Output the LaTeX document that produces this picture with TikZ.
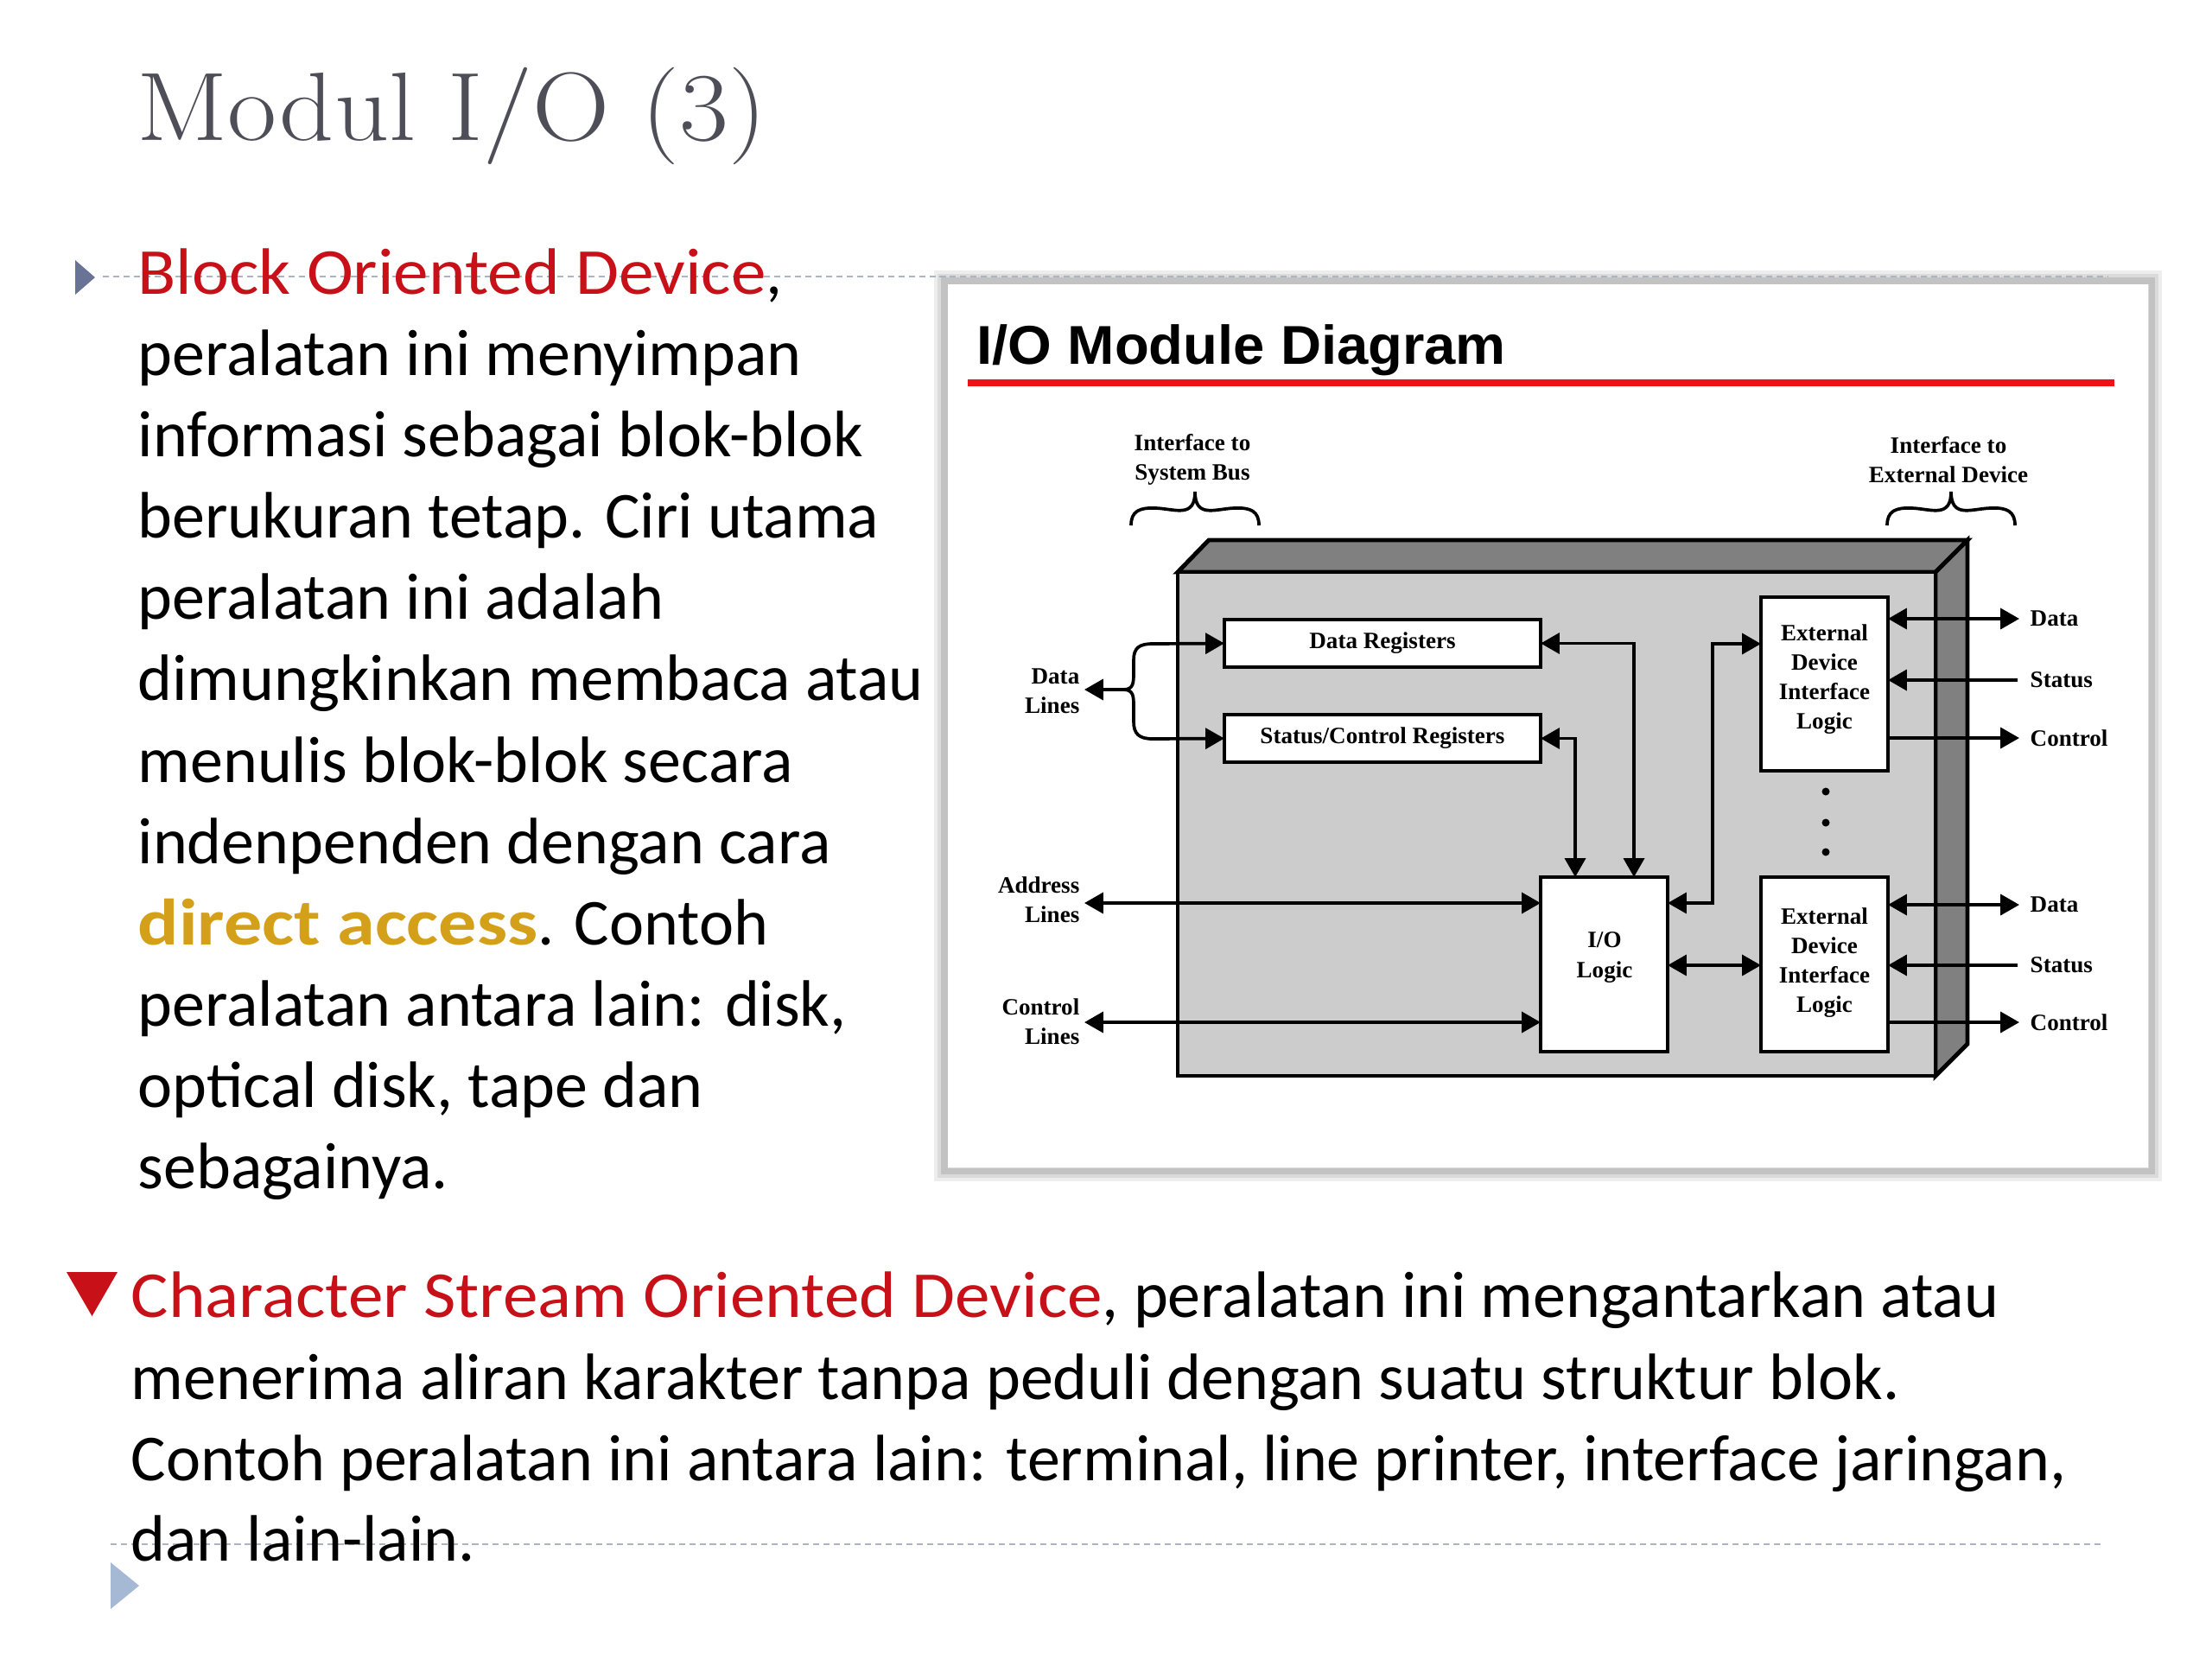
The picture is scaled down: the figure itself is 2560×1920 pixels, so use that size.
\documentclass[tikz,border=0pt]{standalone}
\usepackage{fontspec}
\usepackage{graphicx}
\newfontfamily\bodyfont{Carlito}
\newfontfamily\diagfont{Liberation Serif}
\newfontfamily\headfont{Liberation Sans}
\usetikzlibrary{arrows.meta}
\definecolor{bred}{RGB}{200,16,24}
\definecolor{gold}{RGB}{212,160,26}
\definecolor{tgray}{RGB}{78,78,88}
\definecolor{dashc}{RGB}{170,180,195}
\definecolor{bulA}{RGB}{105,115,150}
\definecolor{bulB}{RGB}{165,185,212}
\definecolor{hred}{RGB}{238,18,18}
\definecolor{frontc}{RGB}{204,204,204}
\definecolor{sidec}{RGB}{128,128,128}
\newcommand{\redterm}[1]{\textcolor{bred}{\scalebox{1.07}[1]{#1}}}
\tikzset{
  >={Triangle[length=6.2pt,width=6.8pt]},
  conn/.style={line width=1.05pt, black},
  regbox/.style={draw, line width=1.3pt, fill=white, inner sep=0pt, outer sep=0pt},
  lbl/.style={font=\diagfont\bfseries\fontsize{7.7}{9.7}\selectfont, inner sep=0pt, align=center},
  body/.style={font=\bodyfont\fontsize{21.6}{26}\selectfont, anchor=base west, inner sep=0pt},
  dashln/.style={dashc, line width=0.75pt, dash pattern=on 2pt off 1.4pt},
}
\begin{document}
\begin{tikzpicture}[x=0.01cm, y=-0.01cm]
\useasboundingbox (0,0) rectangle (2560,1920);
\fill[white] (0,0) rectangle (2560,1920);

% title
\node[anchor=base west, inner sep=0pt, text=tgray, font=\rmfamily\fontsize{32}{38}\selectfont] (title) at (158,162) {\scalebox{1.1}[1]{Modul I/O (3)}};

% diagram panel with soft frame
\draw[line width=7pt, black!7] (1093,325) rectangle (2490,1355);
\draw[line width=4.5pt, black!14] (1093,325) rectangle (2490,1355);
\draw[line width=2pt, black!24] (1093,325) rectangle (2490,1355);
\fill[white] (1097,329) rectangle (2486,1351);

% dashed guide lines
\draw[dashln] (119,320) -- (2440,320);
\draw[dashln] (128,1787) -- (2433,1787);

% bullets
\fill[bulA] (87,301) -- (87,341) -- (110,321) -- cycle;
\fill[bred] (77,1472) -- (136,1472) -- (106.5,1523) -- cycle;
\fill[bulB] (128,1808) -- (128,1862) -- (161,1835) -- cycle;

% body text, first paragraph
\node[body] (t1) at (159,340) {\redterm{Block Oriented Device},};
\node[body] (t2) at (159,434) {peralatan ini menyimpan};
\node[body] (t3) at (159,528) {informasi sebagai blok-blok};
\node[body] (t4) at (159,622) {berukuran tetap. Ciri utama};
\node[body] (t5) at (159,716) {peralatan ini adalah};
\node[body] (t6) at (159,810) {dimungkinkan membaca atau};
\node[body] (t7) at (159,905) {menulis blok-blok secara};
\node[body] (t8) at (159,999) {indenpenden dengan cara};
\node[body] (t9) at (159,1093) {\textcolor{gold}{\scalebox{1.16}[1]{\bfseries direct access}}. Contoh};
\node[body] (t10) at (159,1187) {peralatan antara lain: disk,};
\node[body] (t11) at (159,1281) {optical disk, tape dan};
\node[body] (t12) at (159,1375) {sebagainya.};

% body text, second paragraph
\node[body] (u1) at (151,1524) {\redterm{Character Stream Oriented Device}, peralatan ini mengantarkan atau};
\node[body] (u2) at (151,1619) {menerima aliran karakter tanpa peduli dengan suatu struktur blok.};
\node[body] (u3) at (151,1713) {Contoh peralatan ini antara lain: terminal, line printer, interface jaringan,};
\node[body] (u4) at (151,1806) {dan lain-lain.};

% diagram heading
\node[anchor=base west, inner sep=0pt, font=\headfont\bfseries\fontsize{18}{20}\selectfont] (dh) at (1130,421) {\scalebox{1.03}[1]{I/O Module Diagram}};
\draw[hred, line width=2.5pt] (1120,443) -- (2447,443);

% interface labels and braces
\node[lbl] (ifs) at (1380,532) {Interface to\\System Bus};
\node[lbl] (ife) at (2255,532) {Interface to\\External Device};
\draw[line width=1.05pt] (1309,608) .. controls (1309,592) and (1318,587) .. (1338,588)
  .. controls (1360,589) and (1383,600) .. (1383,569)
  .. controls (1383,600) and (1406,589) .. (1428,588)
  .. controls (1448,587) and (1457,592) .. (1457,608);
\draw[line width=1.05pt] (2184,608) .. controls (2184,592) and (2193,587) .. (2213,588)
  .. controls (2235,589) and (2258,600) .. (2258,569)
  .. controls (2258,600) and (2281,589) .. (2303,588)
  .. controls (2323,587) and (2332,592) .. (2332,608);

% 3D module box
\draw[fill=sidec, line width=1.4pt, line join=miter] (1363,662) -- (1399,625) -- (2277,625) -- (2240,662) -- cycle;
\draw[fill=sidec, line width=1.4pt, line join=miter] (2240,662) -- (2277,625) -- (2277,1208) -- (2240,1245) -- cycle;
\draw[fill=frontc, line width=1.4pt, line join=miter] (1363,662) rectangle (2240,1245);

% inner blocks
\node[regbox, minimum width=3.66cm, minimum height=0.55cm] (dreg) at (1600,744.5) {};
\node[regbox, minimum width=3.66cm, minimum height=0.55cm] (sreg) at (1600,854.5) {};
\node[regbox, minimum width=1.47cm, minimum height=2.02cm] (io) at (1856.5,1116) {};
\node[regbox, minimum width=1.47cm, minimum height=2.01cm] (e1) at (2111.5,791.5) {};
\node[regbox, minimum width=1.47cm, minimum height=2.02cm] (e2) at (2111.5,1116) {};
\node[lbl] (dregl) at (dreg.center) {Data Registers};
\node[lbl] (sregl) at (sreg.center) {Status/Control Registers};
\node[lbl] (iol) at (1857,1108) {I/O\\Logic};
\node[lbl] (e1l) at (2111.5,786) {External\\Device\\Interface\\Logic};
\node[lbl] (e2l) at (2111.5,1114) {External\\Device\\Interface\\Logic};

% ellipsis
\fill (2113,916) circle[radius=0.045cm];
\fill (2113,952) circle[radius=0.045cm];
\fill (2113,986) circle[radius=0.045cm];

% helper coordinates
\coordinate (vA) at (1891,745);
\coordinate (vB) at (1823,855);
\coordinate (vC) at (1982,1045);
\coordinate (yE) at (2000,745);
\coordinate (yIO) at (2000,1117);
\coordinate (addrT) at (1255,1045);
\coordinate (ctlT) at (1255,1183);
\coordinate (dataT) at (1255,798);
\coordinate (dj) at (1300,798);
\coordinate (d1) at (2337,716);
\coordinate (s1) at (2335,787);
\coordinate (c1) at (2337,854);
\coordinate (d2) at (2337,1047);
\coordinate (s2) at (2335,1117);
\coordinate (c2) at (2337,1183);

% internal connectors
\draw[conn, <->] (dreg.east) -| (io.north -| vA);
\draw[conn, <->] (sreg.east) -| (io.north -| vB);
\draw[conn, <->] (io.east |- vC) -- (vC) |- (e1.west |- yE);
\draw[conn, <->] (io.east |- yIO) -- (e2.west |- yIO);

% system bus side
\draw[conn, <->] (addrT) -- (io.west |- addrT);
\draw[conn, <->] (ctlT) -- (io.west |- ctlT);
\draw[conn, <-] (dataT) -- (dj);
\draw[conn, ->] (dj) .. controls (1312,798) and (1312,790) .. (1312,778) -- (1312,764)
  .. controls (1312,750) and (1318,745) .. (1334,745) -- (dreg.west);
\draw[conn, ->] (dj) .. controls (1312,798) and (1312,806) .. (1312,818) -- (1312,835)
  .. controls (1312,849) and (1318,855) .. (1334,855) -- (sreg.west);
\node[lbl, anchor=east, align=right] (ldl) at (1250,800) {Data\\Lines};
\node[lbl, anchor=east, align=right] (lal) at (1250,1041) {Address\\Lines};
\node[lbl, anchor=east, align=right] (lcl) at (1250,1182) {Control\\Lines};

% external device side
\draw[conn, <->] (e1.east |- d1) -- (d1);
\draw[conn, ->] (s1) -- (e1.east |- s1);
\draw[conn, ->] (e1.east |- c1) -- (c1);
\draw[conn, <->] (e2.east |- d2) -- (d2);
\draw[conn, ->] (s2) -- (e2.east |- s2);
\draw[conn, ->] (e2.east |- c2) -- (c2);
\node[lbl, anchor=west] (ld1) at (2349,716) {Data};
\node[lbl, anchor=west] (ls1) at (2349,787) {Status};
\node[lbl, anchor=west] (lc1) at (2349,854) {Control};
\node[lbl, anchor=west] (ld2) at (2349,1047) {Data};
\node[lbl, anchor=west] (ls2) at (2349,1117) {Status};
\node[lbl, anchor=west] (lc2) at (2349,1183) {Control};
\end{tikzpicture}
\end{document}
